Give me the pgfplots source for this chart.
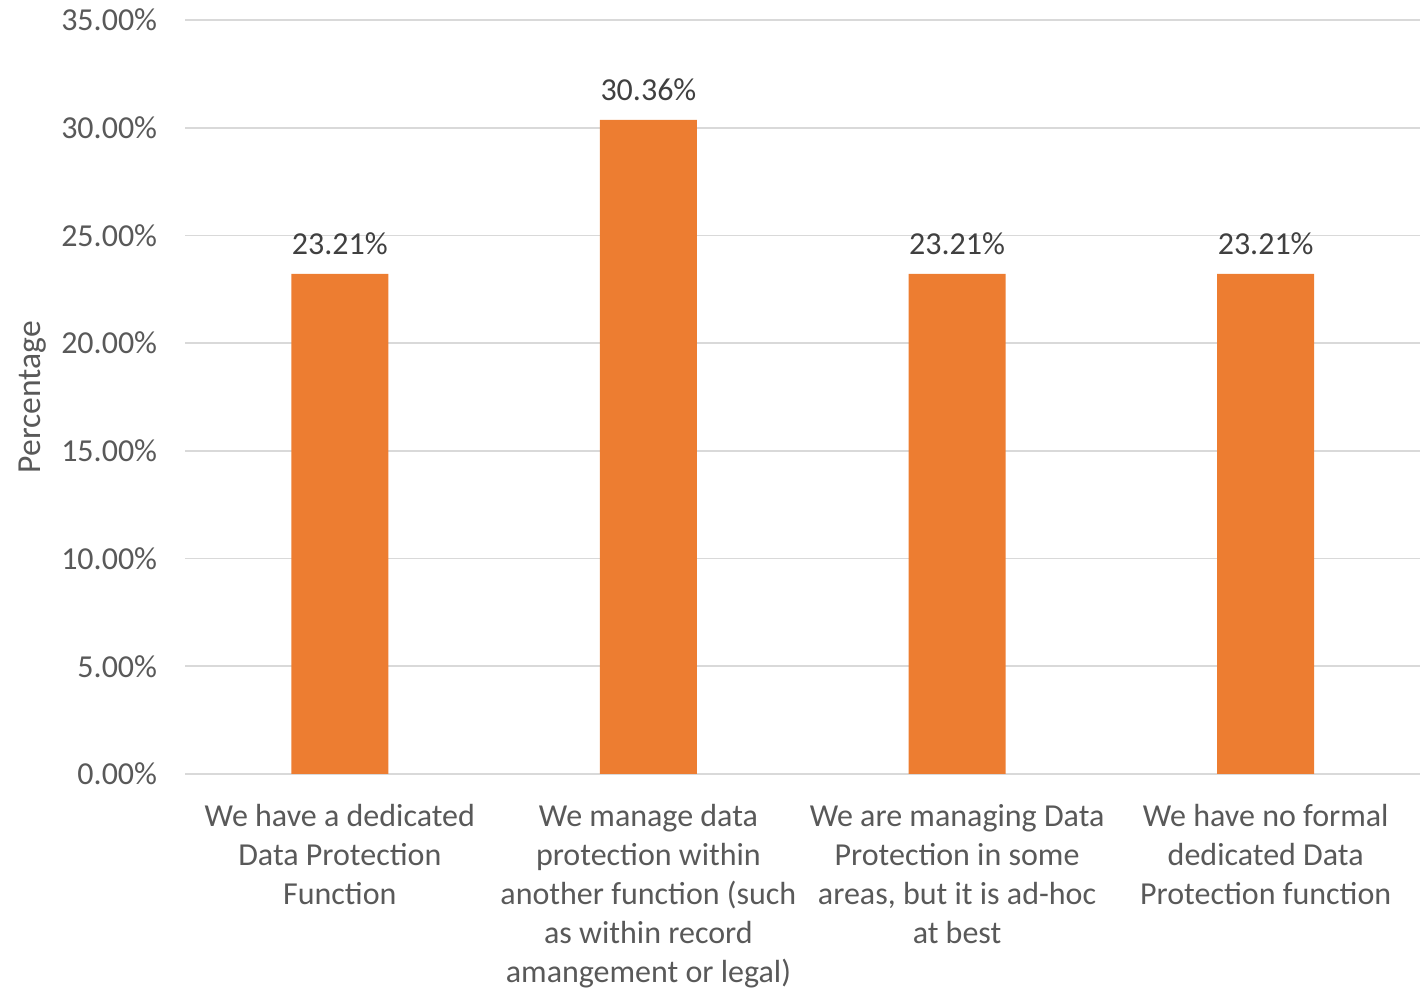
\documentclass[border=0pt]{standalone}
\usepackage{pgfplots}
\pgfplotsset{compat=1.18}
\usepackage{fontspec}
\setmainfont{Carlito}
\definecolor{barorange}{HTML}{ED7D31}
\definecolor{gridgray}{HTML}{D9D9D9}
\definecolor{labelgray}{HTML}{595959}
\definecolor{valuegray}{HTML}{404040}
\pgfplotstableread{
x y
0 23.21
1 30.36
2 23.21
3 23.21
}\protectiondata
\begin{document}
\begin{tikzpicture}
\useasboundingbox (0,0) rectangle (712.5pt,494pt);
\begin{axis}[
  at={(92.75pt,107pt)}, anchor=south west,
  scale only axis,
  width=617.25pt, height=377pt,
  xmin=-0.5, xmax=3.5,
  ymin=0, ymax=35,
  ytick={0,5,...,35},
  xtick=data,
  xticklabels={
    {We have a dedicated\\Data Protection\\Function},
    {We manage data\\protection within\\another function (such\\as within record\\amangement or legal)},
    {We are managing Data\\Protection in some\\areas, but it is ad-hoc\\at best},
    {We have no formal\\dedicated Data\\Protection function}},
  major tick length=0pt,
  axis line style={draw=none},
  axis x line*=bottom,
  axis y line*=left,
  ymajorgrids,
  grid style={gridgray, line width=0.9pt},
  /pgf/number format/assume math mode=true,
  yticklabel={\pgfmathprintnumber[fixed,fixed zerofill,precision=2]{\tick}\%},
  yticklabel style={anchor=east, inner sep=0pt, xshift=-14pt,
    font=\fontsize{16}{19.5}\selectfont, text=labelgray},
  xticklabel style={anchor=north, inner sep=0pt, yshift=-14.8pt, align=center,
    font=\fontsize{16}{19.5}\selectfont, text=labelgray},
  ylabel={Percentage},
  ylabel style={at={(axis description cs:-0.1235,0.5)}, anchor=center,
    font=\fontsize{16.8}{20}\selectfont, text=labelgray},
  clip=false,
]
\draw[gridgray, line width=0.9pt] (axis cs:-0.5,0) -- (axis cs:3.5,0);
\addplot[ybar, bar width=48.5pt, fill=barorange, draw=none,
  point meta=y,
  nodes near coords={\pgfmathprintnumber[fixed,fixed zerofill,precision=2]{\pgfplotspointmeta}\%},
  every node near coord/.append style={anchor=south, inner sep=0pt, yshift=9.5pt,
    font=\fontsize{16}{19.5}\selectfont, text=valuegray}]
  table[x=x, y=y] {\protectiondata};
\end{axis}
\end{tikzpicture}
\end{document}
